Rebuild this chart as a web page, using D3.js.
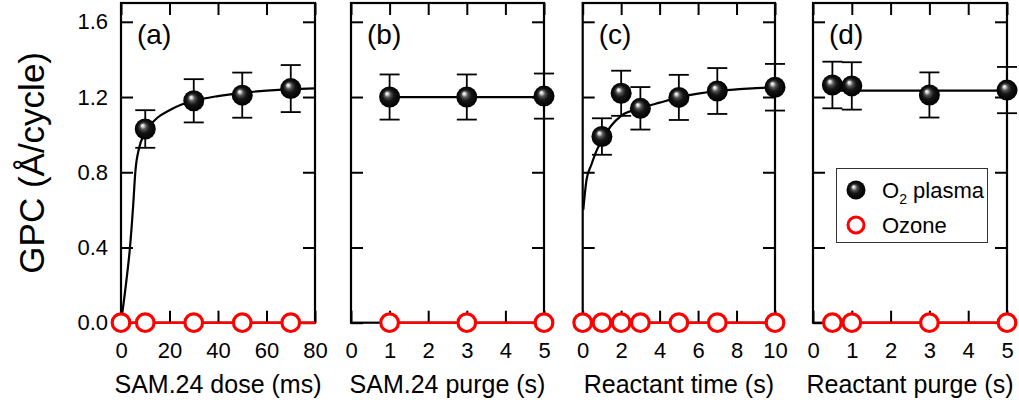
<!DOCTYPE html>
<html>
<head>
<meta charset="utf-8">
<script src="https://cdn.jsdelivr.net/npm/d3@7"></script>
<style>
  html, body { margin: 0; padding: 0; background: #fff; }
  svg { display: block; font-family: "Liberation Sans", Arimo, Arial, sans-serif; }
</style>
</head>
<body>
<svg id="chart" width="1019" height="402"></svg>
<script>
// ---------------- data ----------------
const yTicks = [0, 0.4, 0.8, 1.2, 1.6];
const yTickLabels = ["0.0", "0.4", "0.8", "1.2", "1.6"];
const yTitle = "GPC (Å/cycle)";

// panel (a)
const aLabel = "(a)";
const aXTitle = "SAM.24 dose (ms)";
const aXTicks = [0, 20, 40, 60, 80];
const aXTickLabels = ["0", "20", "40", "60", "80"];
const aPlasmaX = [10, 30, 50, 70];
const aPlasmaY = [1.03, 1.18, 1.21, 1.245];
const aPlasmaErr = [0.10, 0.115, 0.12, 0.125];
const aOzoneX = [0, 10, 30, 50, 70];
const aOzoneY = [0, 0, 0, 0, 0];
const aFitX = [0, 2, 3.7, 5, 5.9, 7.5, 9.5, 12, 15, 20, 25, 30, 40, 50, 60, 70, 80];
const aFitY = [0, 0.2, 0.4, 0.62, 0.8, 0.93, 1.0, 1.05, 1.09, 1.13, 1.16, 1.18, 1.205, 1.222, 1.234, 1.242, 1.246];
const aOzoneFitX = [0, 80];
const aOzoneFitY = [0, 0];

// panel (b)
const bLabel = "(b)";
const bXTitle = "SAM.24 purge (s)";
const bXTicks = [0, 1, 2, 3, 4, 5];
const bXTickLabels = ["0", "1", "2", "3", "4", "5"];
const bPlasmaX = [1, 3, 5];
const bPlasmaY = [1.20, 1.20, 1.205];
const bPlasmaErr = [0.12, 0.12, 0.12];
const bOzoneX = [1, 3, 5];
const bOzoneY = [0, 0, 0];
const bFitX = [1, 5];
const bFitY = [1.20, 1.20];
const bOzoneFitX = [1, 5];
const bOzoneFitY = [0, 0];

// panel (c)
const cLabel = "(c)";
const cXTitle = "Reactant time (s)";
const cXTicks = [0, 2, 4, 6, 8, 10];
const cXTickLabels = ["0", "2", "4", "6", "8", "10"];
const cPlasmaX = [1, 2, 3, 5, 7, 10];
const cPlasmaY = [0.99, 1.22, 1.14, 1.198, 1.232, 1.252];
const cPlasmaErr = [0.097, 0.12, 0.113, 0.12, 0.122, 0.124];
const cOzoneX = [0, 1, 2, 3, 5, 7, 10];
const cOzoneY = [0, 0, 0, 0, 0, 0, 0];
const cFitX = [0.03, 0.2, 0.45, 0.7, 1, 1.5, 2, 3, 4, 5, 6, 7, 8, 9, 10];
const cFitY = [0.6, 0.76, 0.84, 0.91, 0.97, 1.05, 1.1, 1.14, 1.17, 1.198, 1.218, 1.232, 1.241, 1.247, 1.252];
const cOzoneFitX = [0, 10];
const cOzoneFitY = [0, 0];

// panel (d)
const dLabel = "(d)";
const dXTitle = "Reactant purge (s)";
const dXTicks = [0, 1, 2, 3, 4, 5];
const dXTickLabels = ["0", "1", "2", "3", "4", "5"];
const dPlasmaX = [0.5, 1, 3, 5];
const dPlasmaY = [1.264, 1.259, 1.211, 1.237];
const dPlasmaErr = [0.124, 0.126, 0.12, 0.123];
const dOzoneX = [0.5, 1, 3, 5];
const dOzoneY = [0, 0, 0, 0];
const dFitX = [0.5, 5];
const dFitY = [1.234, 1.234];
const dOzoneFitX = [0.5, 5];
const dOzoneFitY = [0, 0];

const legendNames = ["O2 plasma", "Ozone"];

// ---------------- layout ----------------
const svg = d3.select("#chart");
const FONT = '"Liberation Sans", Arimo, Arial, sans-serif';
const TOP = 3, BOTTOM = 322.7;
const Y_MAX = 1.7;
const y = d3.scaleLinear().domain([0, Y_MAX]).range([BOTTOM, TOP]);

const defs = svg.append("defs");
const grad = defs.append("radialGradient").attr("id", "sphere")
  .attr("cx", "50%").attr("cy", "50%").attr("r", "50%")
  .attr("fx", "36%").attr("fy", "32%");
grad.append("stop").attr("offset", "0%").attr("stop-color", "#ffffff");
grad.append("stop").attr("offset", "12%").attr("stop-color", "#d8d8d8");
grad.append("stop").attr("offset", "30%").attr("stop-color", "#555555");
grad.append("stop").attr("offset", "55%").attr("stop-color", "#151515");
grad.append("stop").attr("offset", "100%").attr("stop-color", "#000000");

const panels = [
  { left: 121, right: 315, domain: [0, 80], ticks: aXTicks, tickLabels: aXTickLabels, label: aLabel, title: aXTitle,
    px: aPlasmaX, py: aPlasmaY, pe: aPlasmaErr, ox: aOzoneX, oy: aOzoneY,
    fx: aFitX, fy: aFitY, ofx: aOzoneFitX, ofy: aOzoneFitY, smooth: true, yLabels: true },
  { left: 351, right: 544, domain: [0, 5], ticks: bXTicks, tickLabels: bXTickLabels, label: bLabel, title: bXTitle,
    px: bPlasmaX, py: bPlasmaY, pe: bPlasmaErr, ox: bOzoneX, oy: bOzoneY,
    fx: bFitX, fy: bFitY, ofx: bOzoneFitX, ofy: bOzoneFitY, smooth: false, yLabels: false },
  { left: 582.7, right: 775, domain: [0, 10], ticks: cXTicks, tickLabels: cXTickLabels, label: cLabel, title: cXTitle,
    px: cPlasmaX, py: cPlasmaY, pe: cPlasmaErr, ox: cOzoneX, oy: cOzoneY,
    fx: cFitX, fy: cFitY, ofx: cOzoneFitX, ofy: cOzoneFitY, smooth: true, yLabels: false },
  { left: 813, right: 1007, domain: [0, 5], ticks: dXTicks, tickLabels: dXTickLabels, label: dLabel, title: dXTitle,
    px: dPlasmaX, py: dPlasmaY, pe: dPlasmaErr, ox: dOzoneX, oy: dOzoneY,
    fx: dFitX, fy: dFitY, ofx: dOzoneFitX, ofy: dOzoneFitY, smooth: false, yLabels: false }
];

const TICK = 12;
const R_SPHERE = 10.5, R_OPEN = 8.8, CAP = 10;

panels.forEach(p => {
  const x = d3.scaleLinear().domain(p.domain).range([p.left, p.right]);
  const g = svg.append("g");

  // axes (inward ticks on all sides)
  const bottom = g.append("g").attr("transform", `translate(0,${BOTTOM})`)
    .call(d3.axisBottom(x).tickValues(p.ticks).tickSizeInner(-TICK).tickSizeOuter(0).tickPadding(20)
      .tickFormat((d, i) => p.tickLabels[i]));
  const top = g.append("g").attr("transform", `translate(0,${TOP})`)
    .call(d3.axisTop(x).tickValues(p.ticks).tickSizeInner(-TICK).tickSizeOuter(0).tickFormat(""));
  const left = g.append("g").attr("transform", `translate(${p.left},0)`)
    .call(d3.axisLeft(y).tickValues(yTicks).tickSizeInner(-TICK).tickSizeOuter(0).tickPadding(13)
      .tickFormat((d, i) => p.yLabels ? yTickLabels[i] : ""));
  const right = g.append("g").attr("transform", `translate(${p.right},0)`)
    .call(d3.axisRight(y).tickValues(yTicks).tickSizeInner(-TICK).tickSizeOuter(0).tickFormat(""));
  [bottom, top, left, right].forEach(a => {
    a.attr("font-family", FONT);
    a.select(".domain").remove();
    a.selectAll(".tick line").attr("stroke", "#000").attr("stroke-width", 2);
    a.selectAll(".tick text").attr("fill", "#000").attr("font-size", 22);
  });

  // frame
  g.append("rect").attr("x", p.left).attr("y", TOP)
    .attr("width", p.right - p.left).attr("height", BOTTOM - TOP)
    .attr("fill", "none").attr("stroke", "#000").attr("stroke-width", 2.2);

  // panel label
  g.append("text").attr("x", p.left + 16).attr("y", 44)
    .attr("font-size", 28).attr("fill", "#000").text(p.label);

  // x title
  g.append("text").attr("x", (p.left + p.right) / 2).attr("y", 393)
    .attr("text-anchor", "middle").attr("font-size", 25).attr("fill", "#000").text(p.title);

  // fit lines
  const fitPts = p.fx.map((v, i) => [v, p.fy[i]]);
  const ofitPts = p.ofx.map((v, i) => [v, p.ofy[i]]);
  const line = d3.line().x(d => x(d[0])).y(d => y(d[1]))
    .curve(p.smooth ? d3.curveMonotoneX : d3.curveLinear);
  g.append("path").attr("d", line(fitPts)).attr("fill", "none")
    .attr("stroke", "#000").attr("stroke-width", 2.2);
  g.append("path").attr("d", d3.line().x(d => x(d[0])).y(d => y(d[1]))(ofitPts))
    .attr("fill", "none").attr("stroke", "#f00").attr("stroke-width", 2.4);

  // error bars
  p.px.forEach((v, i) => {
    const cx = x(v), y1 = y(p.py[i] + p.pe[i]), y2 = y(p.py[i] - p.pe[i]);
    const eb = g.append("g").attr("stroke", "#000").attr("stroke-width", 1.8);
    eb.append("line").attr("x1", cx).attr("x2", cx).attr("y1", y1).attr("y2", y2);
    eb.append("line").attr("x1", cx - CAP).attr("x2", cx + CAP).attr("y1", y1).attr("y2", y1);
    eb.append("line").attr("x1", cx - CAP).attr("x2", cx + CAP).attr("y1", y2).attr("y2", y2);
  });

  // ozone markers
  p.ox.forEach((v, i) => {
    g.append("circle").attr("cx", x(v)).attr("cy", y(p.oy[i])).attr("r", R_OPEN)
      .attr("fill", "#fff").attr("stroke", "#f00").attr("stroke-width", 3.2);
  });
  // plasma markers
  p.px.forEach((v, i) => {
    g.append("circle").attr("cx", x(v)).attr("cy", y(p.py[i])).attr("r", R_SPHERE)
      .attr("fill", "url(#sphere)");
  });
});

// y title
svg.append("text")
  .attr("transform", `translate(44,${(TOP + BOTTOM) / 2}) rotate(-90)`)
  .attr("text-anchor", "middle").attr("font-size", 35).attr("fill", "#000").text(yTitle);

// legend
const lg = svg.append("g");
lg.append("rect").attr("x", 836.5).attr("y", 168.5).attr("width", 151).attr("height", 74)
  .attr("fill", "#fff").attr("stroke", "#333").attr("stroke-width", 1);
lg.append("circle").attr("cx", 856).attr("cy", 190).attr("r", 9.5).attr("fill", "url(#sphere)");
lg.append("circle").attr("cx", 856).attr("cy", 225).attr("r", 8).attr("fill", "#fff")
  .attr("stroke", "#f00").attr("stroke-width", 3);
const t1 = lg.append("text").attr("x", 882).attr("y", 198).attr("font-size", 22).attr("fill", "#000");
t1.append("tspan").text(legendNames[0].slice(0, 1));
t1.append("tspan").attr("font-size", 14).attr("dy", 6).text(legendNames[0].slice(1, 2));
t1.append("tspan").attr("dy", -6).text(legendNames[0].slice(2));
lg.append("text").attr("x", 882).attr("y", 233).attr("font-size", 22).attr("fill", "#000").text(legendNames[1]);
</script>
</body>
</html>
